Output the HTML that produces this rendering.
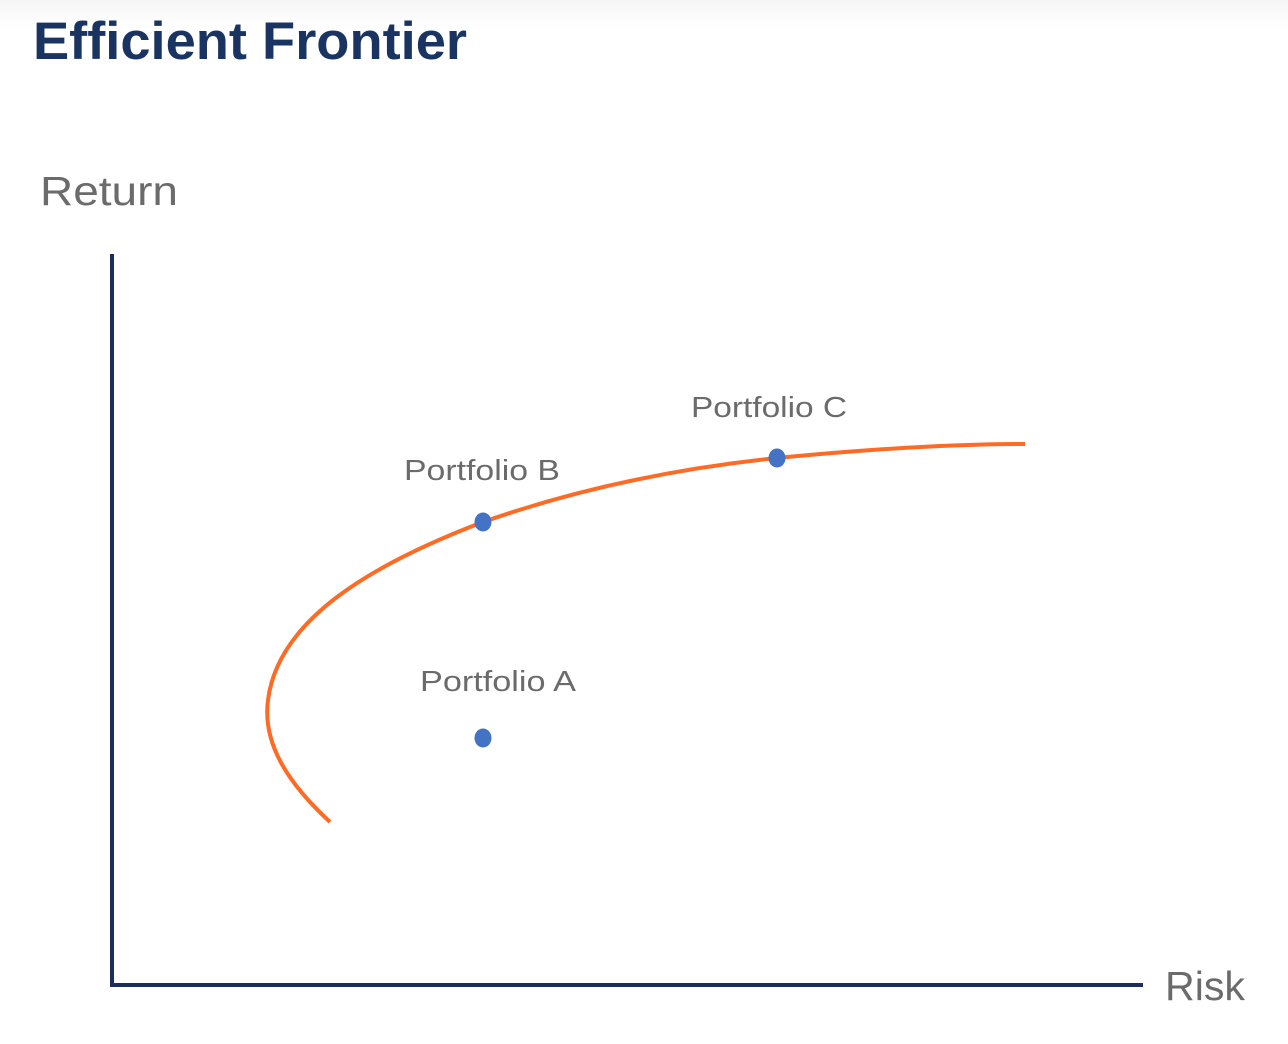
<!DOCTYPE html>
<html><head><meta charset="utf-8"><style>
html,body{margin:0;padding:0;width:1288px;height:1044px;overflow:hidden;background:#fff}
body{background:linear-gradient(#f5f5f5 0px,#fdfdfd 22px,#fff 30px)}
svg{position:absolute;left:0;top:0}
</style></head><body>
<svg width="1288" height="1044" viewBox="0 0 1288 1044">
<text x="33" y="59" font-family="Liberation Sans, sans-serif" font-size="53" font-weight="bold" fill="#1a3461" textLength="434" lengthAdjust="spacingAndGlyphs">Efficient Frontier</text>
<text x="40" y="205" font-family="Liberation Sans, sans-serif" font-size="41" fill="#6b6b6b" textLength="138" lengthAdjust="spacingAndGlyphs">Return</text>
<text x="1165" y="1000" font-family="Liberation Sans, sans-serif" font-size="41" fill="#6b6b6b" textLength="80" lengthAdjust="spacingAndGlyphs">Risk</text>
<path d="M112,254 L112,985 L1143,985" fill="none" stroke="#1c2f5c" stroke-width="4"/>
<path d="M330,822 C290,785 262,745 268,700 C278,620 370,565 483,522 C580,488 680,468 777,458 C880,448 960,444 1025,444" fill="none" stroke="#ff6a24" stroke-width="4"/>
<ellipse cx="483" cy="522" rx="8.5" ry="9.5" fill="#4472c4"/>
<ellipse cx="777" cy="458" rx="8.5" ry="9.5" fill="#4472c4"/>
<ellipse cx="483" cy="738" rx="8.5" ry="9.5" fill="#4472c4"/>
<g font-family="Liberation Sans, sans-serif" font-size="29" fill="#6b6b6b">
<text x="404" y="480" textLength="156" lengthAdjust="spacingAndGlyphs">Portfolio B</text>
<text x="691" y="417" textLength="156" lengthAdjust="spacingAndGlyphs">Portfolio C</text>
<text x="420" y="691" textLength="156" lengthAdjust="spacingAndGlyphs">Portfolio A</text>
</g>
</svg>
</body></html>
